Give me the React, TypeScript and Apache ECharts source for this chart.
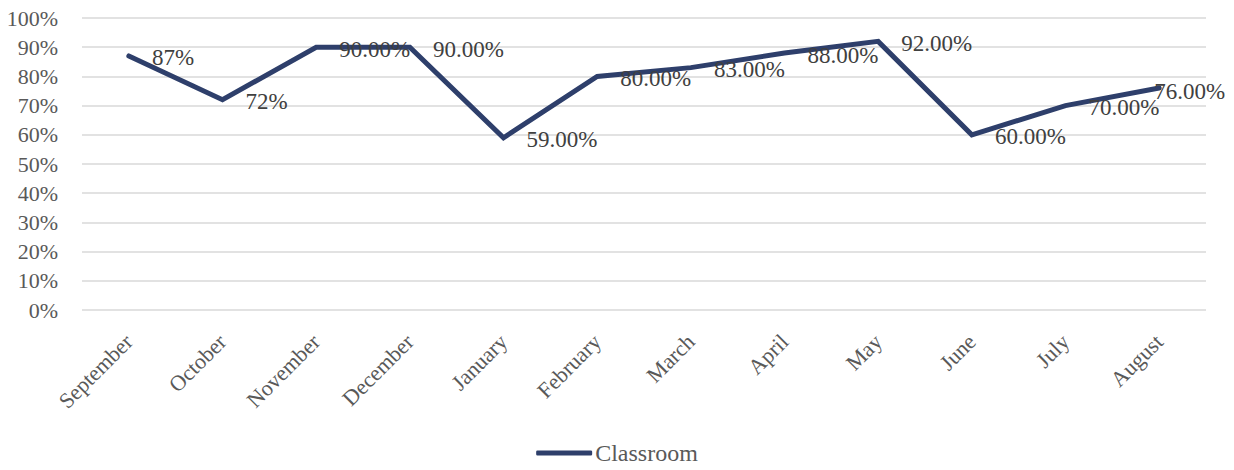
import React, { useEffect, useRef } from "react";
import * as echarts from "echarts";

const months = ["September", "October", "November", "December", "January", "February", "March", "April", "May", "June", "July", "August"];
const classroom = [87, 72, 90, 90, 59, 80, 83, 88, 92, 60, 70, 76];
const pointLabels = ["87%", "72%", "90.00%", "90.00%", "59.00%", "80.00%", "83.00%", "88.00%", "92.00%", "60.00%", "70.00%", "76.00%"];

const FONT = "'Liberation Serif', 'Times New Roman', serif";

export default function App() {
  const ref = useRef<HTMLDivElement>(null);
  useEffect(() => {
    if (!ref.current) return;
    const chart = echarts.init(ref.current, undefined, { renderer: "svg" });
    const data = classroom.map((v, i) =>
      i === classroom.length - 1
        ? { value: v, label: { offset: [-28, 3] } }
        : { value: v }
    );
    chart.setOption({
      animation: false,
      textStyle: { fontFamily: FONT },
      grid: { left: 82, right: 28, top: 18, bottom: 160, containLabel: false },
      legend: {
        bottom: 0,
        left: "center",
        data: ["Classroom"],
        icon: "roundRect",
        itemWidth: 56,
        itemHeight: 5,
        itemGap: 10,
        textStyle: { fontFamily: FONT, fontSize: 24, color: "#595959", padding: [0, 0, 0, -2] },
      },
      xAxis: {
        type: "category",
        data: months,
        boundaryGap: true,
        axisLine: { show: false },
        axisTick: { show: false },
        axisLabel: { rotate: 45, fontFamily: FONT, fontSize: 22, color: "#595959", margin: 28, interval: 0 },
      },
      yAxis: {
        type: "value",
        min: 0,
        max: 100,
        interval: 10,
        axisLine: { show: false },
        axisTick: { show: false },
        splitLine: { lineStyle: { color: "#D9D9D9", width: 1.5 } },
        axisLabel: { formatter: "{value}%", fontFamily: FONT, fontSize: 22, color: "#595959", margin: 24 },
      },
      series: [
        {
          name: "Classroom",
          type: "line",
          data,
          symbol: "circle",
          symbolSize: 0.1,
          showSymbol: true,
          lineStyle: { color: "#2E3F6B", width: 5, cap: "round", join: "miter" },
          itemStyle: { color: "#2E3F6B" },
          label: {
            show: true,
            position: "right",
            distance: 23,
            offset: [0, 2],
            fontFamily: FONT,
            fontSize: 23,
            color: "#404040",
            formatter: (p: any) => pointLabels[p.dataIndex],
          },
        },
      ],
    });
    return () => chart.dispose();
  }, []);
  return <div ref={ref} style={{ width: 1234, height: 470, margin: -8 }} />;
}
